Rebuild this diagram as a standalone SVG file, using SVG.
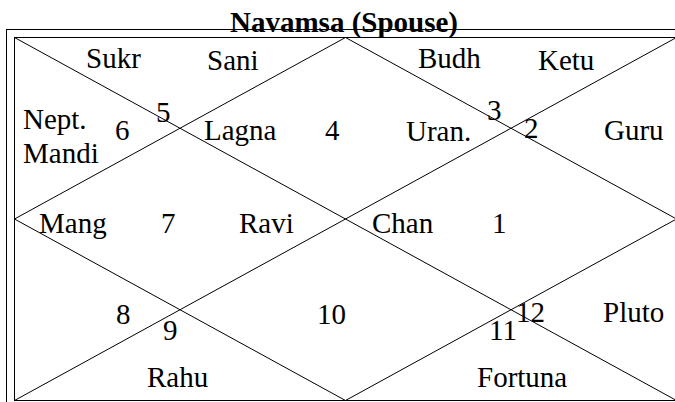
<svg xmlns="http://www.w3.org/2000/svg" width="675" height="402" viewBox="0 0 675 402">
<style>
.ln{fill:none;stroke:#000;stroke-width:1}
.t text{font-family:'Liberation Serif','Times New Roman',serif;font-size:29px;fill:#000}
.title{font-family:'Liberation Serif','Times New Roman',serif;font-weight:bold;font-size:29px;fill:#000}
</style>
<rect width="675" height="402" fill="#fff"/>
<g id="frame">
<rect class="ln" x="6.5" y="29.5" width="700" height="400"/>
<rect class="ln" x="14.5" y="37.5" width="662" height="363"/>
</g>
<g id="connectors">
<line class="ln" x1="14.5" y1="37.5" x2="676.5" y2="400.5"/>
<line class="ln" x1="676.5" y1="37.5" x2="14.5" y2="400.5"/>
<polygon class="ln" points="345.5,37.5 676.5,219 345.5,400.5 14.5,219"/>
</g>
<text class="title" x="230" y="32">Navamsa (Spouse)</text>
<g class="t">
<g id="house1"><text x="492" y="233">1</text><text x="372" y="233">Chan</text></g>
<g id="house2"><text x="524" y="138">2</text><text x="604" y="140">Guru</text></g>
<g id="house3"><text x="487" y="120">3</text><text x="418" y="68">Budh</text><text x="538" y="70">Ketu</text></g>
<g id="house4"><text x="325" y="140">4</text><text x="204" y="140">Lagna</text><text x="406" y="141">Uran.</text></g>
<g id="house5"><text x="156" y="122">5</text><text x="86" y="68">Sukr</text><text x="207" y="70">Sani</text></g>
<g id="house6"><text x="115" y="140">6</text><text x="23" y="129">Nept.</text><text x="23" y="163">Mandi</text></g>
<g id="house7"><text x="161" y="233">7</text><text x="39" y="233">Mang</text><text x="239" y="233">Ravi</text></g>
<g id="house8"><text x="116" y="324">8</text></g>
<g id="house9"><text x="163" y="340">9</text><text x="147" y="387">Rahu</text></g>
<g id="house10"><text x="317" y="324">10</text></g>
<g id="house11"><text x="489" y="340">11</text><text x="477" y="387">Fortuna</text></g>
<g id="house12"><text x="516" y="322">12</text><text x="603" y="322">Pluto</text></g>
</g>
</svg>
